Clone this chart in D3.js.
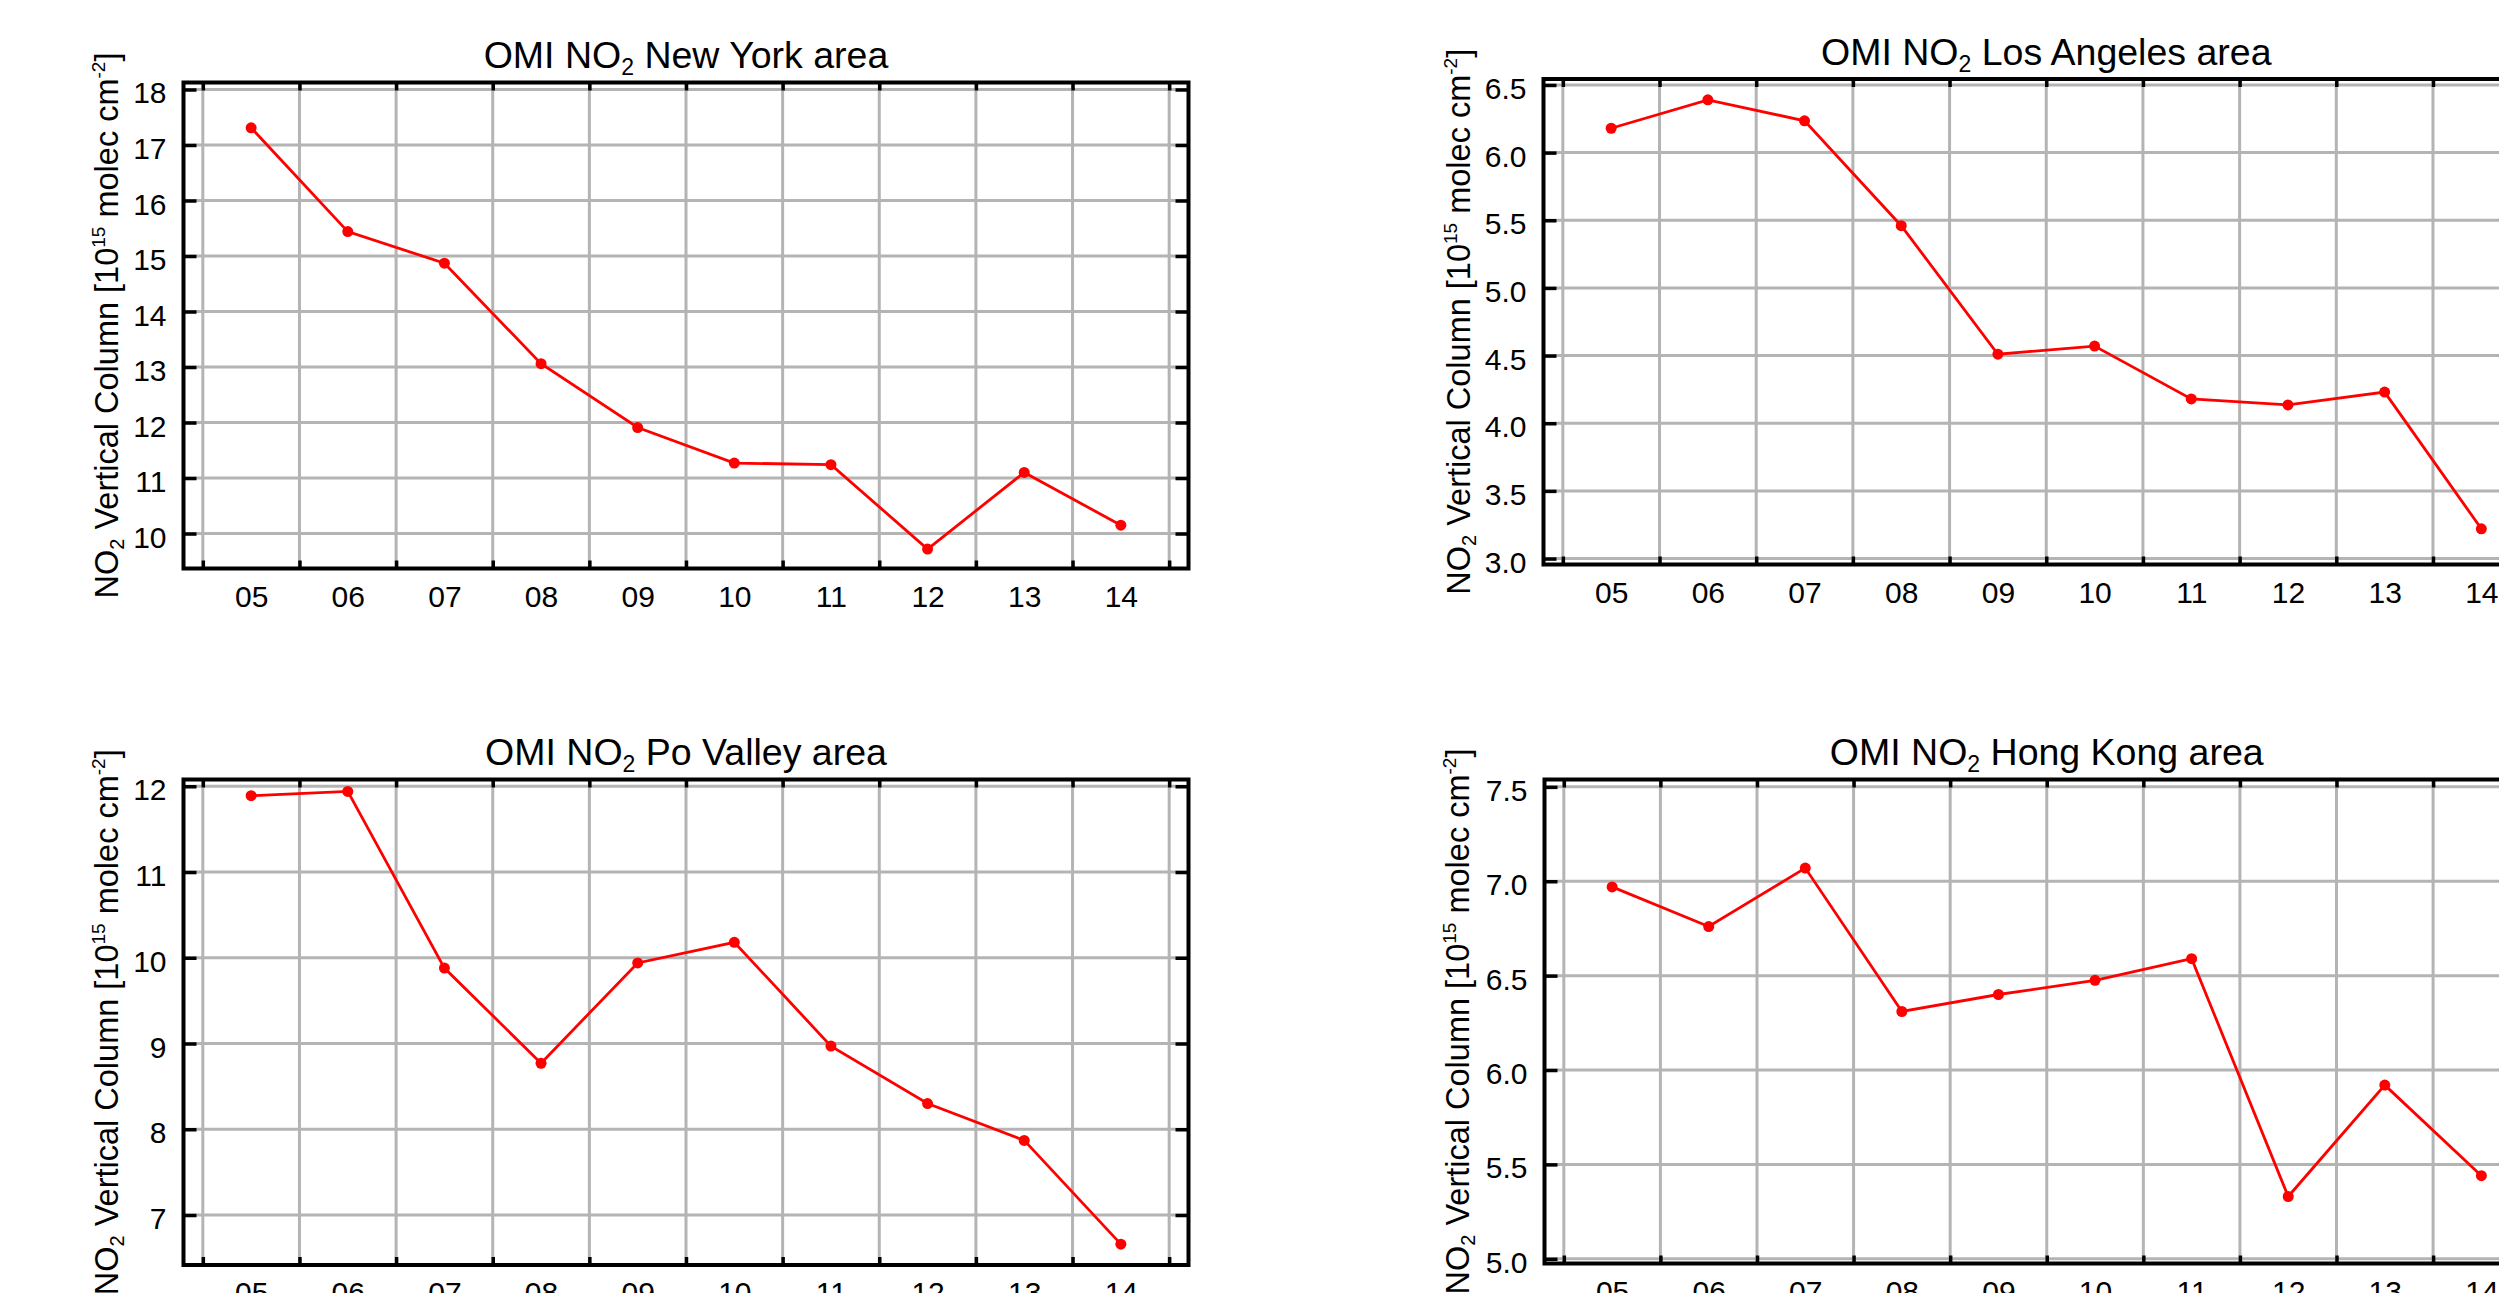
<!DOCTYPE html>
<html>
<head>
<meta charset="utf-8">
<script src="https://cdn.jsdelivr.net/npm/d3@7"></script>
<style>
  html, body { margin: 0; padding: 0; background: #fff; overflow: hidden; }
  svg { display: block; }
  text { font-family: "Liberation Sans", Arial, Helvetica, sans-serif; fill: #000; }
</style>
</head>
<body>
<svg id="chart" width="2499" height="1293"></svg>
<script>
// ---------------- DATA ----------------
const yearLabels = ["05", "06", "07", "08", "09", "10", "11", "12", "13", "14"];
const yearBoundaries = [2005, 2006, 2007, 2008, 2009, 2010, 2011, 2012, 2013, 2014, 2015];
const xRange = [2004.8, 2015.2];

const nyTitle = "New York area";
const nyValues = [17.31, 15.44, 14.87, 13.06, 11.91, 11.27, 11.24, 9.72, 11.10, 10.15];
const nyTicks = [10, 11, 12, 13, 14, 15, 16, 17, 18];
const nyRange = [9.37, 18.126];

const laTitle = "Los Angeles area";
const laValues = [6.18, 6.39, 6.235, 5.46, 4.51, 4.57, 4.18, 4.135, 4.23, 3.22];
const laTicks = [3.0, 3.5, 4.0, 4.5, 5.0, 5.5, 6.0, 6.5];
const laRange = [2.956, 6.544];

const poTitle = "Po Valley area";
const poValues = [11.89, 11.94, 9.88, 8.77, 9.94, 10.18, 8.97, 8.30, 7.87, 6.66];
const poTicks = [7, 8, 9, 10, 11, 12];
const poRange = [6.417, 12.079];

const hkTitle = "Hong Kong area";
const hkValues = [6.97, 6.76, 7.07, 6.31, 6.40, 6.475, 6.59, 5.33, 5.92, 5.44];
const hkTicks = [5.0, 5.5, 6.0, 6.5, 7.0, 7.5];
const hkRange = [4.975, 7.539];

// ---------------- LAYOUT ----------------
const panels = [
  { title: nyTitle, values: nyValues, ticks: nyTicks, range: nyRange, fmt: d3.format("d"),
    left: 183.5, right: 1188.5, top: 82.5, bottom: 568.5, labelOff: 66 },
  { title: laTitle, values: laValues, ticks: laTicks, range: laRange, fmt: d3.format(".1f"),
    left: 1543.5, right: 2549, top: 79, bottom: 564.5, labelOff: 74 },
  { title: poTitle, values: poValues, ticks: poTicks, range: poRange, fmt: d3.format("d"),
    left: 183.5, right: 1188.5, top: 779.5, bottom: 1265, labelOff: 66 },
  { title: hkTitle, values: hkValues, ticks: hkTicks, range: hkRange, fmt: d3.format(".1f"),
    left: 1544.5, right: 2549, top: 779.5, bottom: 1263.5, labelOff: 76 }
];

const svg = d3.select("#chart");
svg.append("rect").attr("width", 2499).attr("height", 1293).attr("fill", "#fff");

const GRID = "#b4b4b4";
const TICK_FONT = 30;

panels.forEach(p => {
  const x = d3.scaleLinear().domain(xRange).range([p.left, p.right]);
  const y = d3.scaleLinear().domain(p.range).range([p.bottom, p.top]);
  const g = svg.append("g");

  // grid
  g.append("g").selectAll("line").data(yearBoundaries).join("line")
    .attr("x1", d => x(d)).attr("x2", d => x(d))
    .attr("y1", p.top).attr("y2", p.bottom)
    .attr("stroke", GRID).attr("stroke-width", 3);
  g.append("g").selectAll("line").data(p.ticks).join("line")
    .attr("x1", p.left).attr("x2", p.right)
    .attr("y1", d => y(d)).attr("y2", d => y(d))
    .attr("stroke", GRID).attr("stroke-width", 3);

  // tick marks (inward)
  const styleAxis = sel => {
    sel.select(".domain").remove();
    sel.selectAll(".tick line").attr("stroke", "#000").attr("stroke-width", 3.5);
    sel.selectAll(".tick text").style("font-size", TICK_FONT + "px")
      .style("font-family", '"Liberation Sans", Arial, Helvetica, sans-serif').attr("fill", "#000");
  };
  g.append("g").attr("transform", `translate(0,${p.bottom})`)
    .call(d3.axisBottom(x).tickValues(yearBoundaries).tickSize(-8).tickSizeOuter(0).tickFormat(""))
    .call(styleAxis);
  g.append("g").attr("transform", `translate(0,${p.top})`)
    .call(d3.axisTop(x).tickValues(yearBoundaries).tickSize(-8).tickSizeOuter(0).tickFormat(""))
    .call(styleAxis);
  g.append("g").attr("transform", `translate(${p.left},0)`)
    .call(d3.axisLeft(y).tickValues(p.ticks).tickSize(-13).tickSizeOuter(0).tickPadding(17).tickFormat(p.fmt))
    .call(styleAxis)
    .call(s => s.selectAll(".tick text").attr("dy", "13.5px"));
  g.append("g").attr("transform", `translate(${p.right},0)`)
    .call(d3.axisRight(y).tickValues(p.ticks).tickSize(-13).tickSizeOuter(0).tickFormat(""))
    .call(styleAxis);

  // x labels at mid-year
  const mids = yearLabels.map(l => 2000 + (+l) + 0.5);
  g.append("g").attr("transform", `translate(0,${p.bottom})`)
    .call(d3.axisBottom(x).tickValues(mids).tickSize(0).tickPadding(17)
      .tickFormat((d, i) => yearLabels[i]))
    .call(styleAxis);

  // frame
  g.append("rect").attr("x", p.left).attr("y", p.top)
    .attr("width", p.right - p.left).attr("height", p.bottom - p.top)
    .attr("fill", "none").attr("stroke", "#000").attr("stroke-width", 4);

  // data line + dots
  const pts = p.values.map((v, i) => [mids[i], v]);
  g.append("path").datum(pts)
    .attr("d", d3.line().x(d => x(d[0])).y(d => y(d[1])))
    .attr("fill", "none").attr("stroke", "#ff0000").attr("stroke-width", 2.8);
  g.append("g").selectAll("circle").data(pts).join("circle")
    .attr("cx", d => x(d[0])).attr("cy", d => y(d[1])).attr("r", 5.5)
    .attr("fill", "#ff0000");

  // title
  const cx = (p.left + p.right) / 2;
  const t = g.append("text").attr("x", cx).attr("y", p.top - 14.5)
    .attr("text-anchor", "middle").style("font-size", "37.5px");
  t.append("tspan").text("OMI NO");
  t.append("tspan").style("font-size", "23px").attr("dy", "7").text("2");
  t.append("tspan").attr("dy", "-7").text(" " + p.title);

  // y label
  const cy = (p.top + p.bottom) / 2;
  const yl = g.append("text")
    .attr("transform", `translate(${p.left - p.labelOff},${cy}) rotate(-90)`)
    .attr("text-anchor", "middle").style("font-size", "32.5px");
  yl.append("tspan").text("NO");
  yl.append("tspan").style("font-size", "20px").attr("dy", "6").text("2");
  yl.append("tspan").attr("dy", "-6").text(" Vertical Column [10");
  yl.append("tspan").style("font-size", "19px").attr("dy", "-13").text("15");
  yl.append("tspan").attr("dy", "13").text(" molec cm");
  yl.append("tspan").style("font-size", "19px").attr("dy", "-13").text("-2");
  yl.append("tspan").attr("dy", "13").text("]");
});
</script>
</body>
</html>
